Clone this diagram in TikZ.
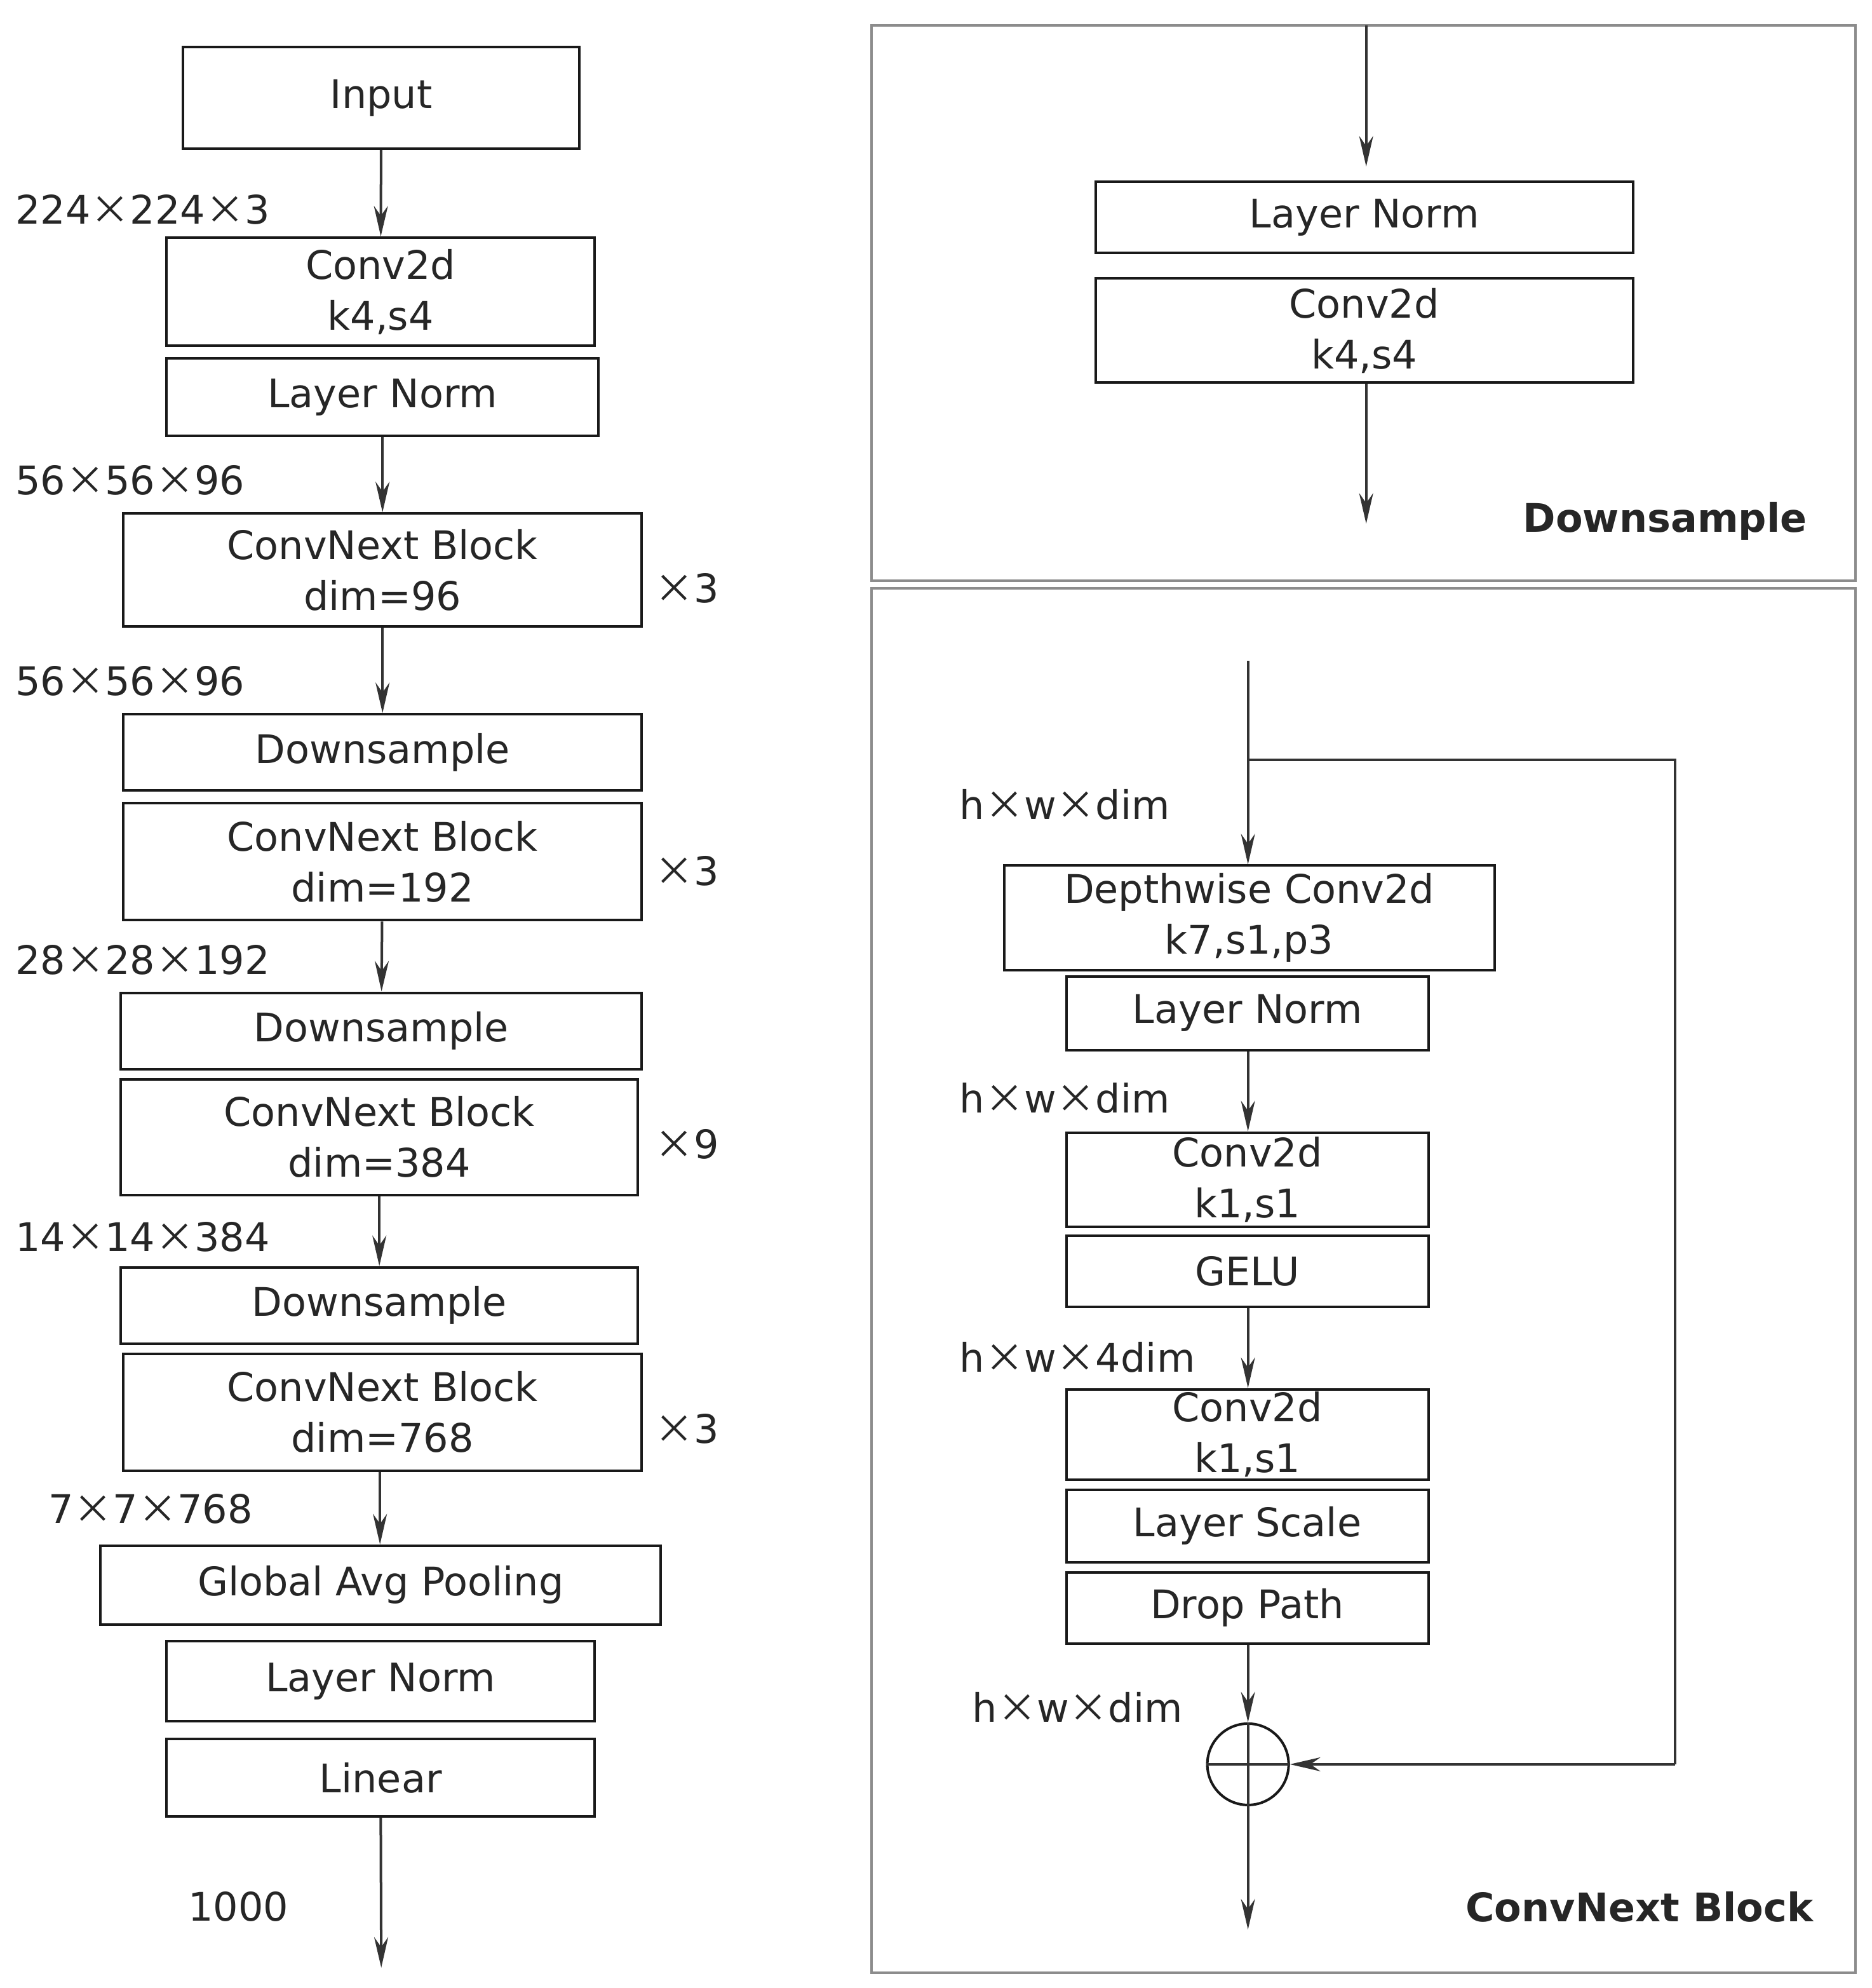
\documentclass[tikz,border=0pt]{standalone}
\usepackage{fontspec}
\setmainfont{DejaVu Sans}
\newfontfamily\cjkf{Noto Sans CJK SC}
\newcommand\mX{{\cjkf ×}}
\usetikzlibrary{arrows.meta}
\begin{document}
\begin{tikzpicture}[x=1pt,y=-1pt,
  every node/.style={font=\fontsize{31}{40}\selectfont, text=black!85},
  box/.style={draw=black!90, line width=2pt, inner sep=0pt, align=center},
  arr/.style={draw=black!80, line width=2pt, -{Stealth[length=24pt,width=11pt]}},
  ln/.style={draw=black!80, line width=2pt},
  lab/.style={anchor=west, inner sep=0pt},
  panel/.style={draw=black!45, line width=2pt}]
\useasboundingbox (0,0) rectangle (1473,1564);
\fill[white] (0,0) rectangle (1473,1564);
% left column
\node[box, minimum width=312pt, minimum height=80pt] (in) at (300,77) {Input};
\node[box, minimum width=337pt, minimum height=85pt] (c1) at (299.5,229.5) {Conv2d\\k4,s4};
\node[box, minimum width=340pt, minimum height=61pt] (l1) at (301,312.5) {Layer Norm};
\node[box, minimum width=408pt, minimum height=89pt] (b1) at (301,448.5) {ConvNext Block\\dim=96};
\node[box, minimum width=408pt, minimum height=60pt] (d1) at (301,592) {Downsample};
\node[box, minimum width=408pt, minimum height=92pt] (b2) at (301,678) {ConvNext Block\\dim=192};
\node[box, minimum width=410pt, minimum height=60pt] (d2) at (300,811) {Downsample};
\node[box, minimum width=407pt, minimum height=91pt] (b3) at (298.5,894.5) {ConvNext Block\\dim=384};
\node[box, minimum width=407pt, minimum height=60pt] (d3) at (298.5,1027) {Downsample};
\node[box, minimum width=408pt, minimum height=92pt] (b4) at (301,1111) {ConvNext Block\\dim=768};
\node[box, minimum width=441pt, minimum height=62pt] (gap) at (299.5,1247) {Global Avg Pooling};
\node[box, minimum width=337pt, minimum height=63pt] (l2) at (299.5,1322.5) {Layer Norm};
\node[box, minimum width=337pt, minimum height=61pt] (lin) at (299.5,1398.5) {Linear};
\coordinate (out) at (300,1548);
\draw[arr] (in) -- (c1);
\draw[arr] (l1) -- (b1);
\draw[arr] (b1) -- (d1);
\draw[arr] (b2) -- (d2);
\draw[arr] (b3) -- (d3);
\draw[arr] (b4.south -| 299,0) -- (gap.north -| 299,0);
\draw[arr] (lin) -- (out);
\node[lab] (t1) at (12,165) {224\mX224\mX3};
\node[lab] (t2) at (12,378) {56\mX56\mX96};
\node[lab] (t3) at (12,536) {56\mX56\mX96};
\node[lab] (t4) at (12,755) {28\mX28\mX192};
\node[lab] (t5) at (12,973) {14\mX14\mX384};
\node[lab] (t6) at (38,1187) {7\mX7\mX768};
\node[lab] (t7) at (148,1500) {1000};
\node[lab] (x1) at (515,463) {\mX3};
\node[lab] (x2) at (515,685) {\mX3};
\node[lab] (x3) at (515,900) {\mX9};
\node[lab] (x4) at (515,1124) {\mX3};
% downsample panel
\draw[panel] (686,20) rectangle (1460,457);
\coordinate (dtop) at (1075,20);
\node[box, minimum width=423pt, minimum height=56pt] (dln) at (1073.5,171) {Layer Norm};
\node[box, minimum width=423pt, minimum height=82pt] (dcv) at (1073.5,260) {Conv2d\\k4,s4};
\coordinate (dbot) at (1075,412);
\draw[arr] (dtop) -- (1075,131);
\draw[arr] (dcv.south -| 1075,0) -- (dbot);
\node[anchor=east, inner sep=0pt, font=\fontsize{31}{40}\selectfont\bfseries] (dt) at (1422,410) {Downsample};
% convnext block panel
\draw[panel] (686,463) rectangle (1460,1552);
\coordinate (ctop) at (982,520);
\coordinate (br) at (982,598);
\node[box, minimum width=386pt, minimum height=82pt] (dw) at (983,722) {Depthwise Conv2d\\k7,s1,p3};
\node[box, minimum width=285pt, minimum height=58pt] (cln) at (981.5,797) {Layer Norm};
\node[box, minimum width=285pt, minimum height=74pt] (cc1) at (981.5,928) {Conv2d\\k1,s1};
\node[box, minimum width=285pt, minimum height=56pt] (ge) at (981.5,1000) {GELU};
\node[box, minimum width=285pt, minimum height=71pt] (cc2) at (981.5,1128.5) {Conv2d\\k1,s1};
\node[box, minimum width=285pt, minimum height=57pt] (ls) at (981.5,1200.5) {Layer Scale};
\node[box, minimum width=285pt, minimum height=56pt] (dp) at (981.5,1265) {Drop Path};
\node[draw=black!90, line width=2pt, circle, minimum size=64pt, inner sep=0pt] (add) at (982,1388) {};
\draw[ln] (add.north) -- (add.south) (add.west) -- (add.east);
\coordinate (cbot) at (982,1518);
\draw[arr] (ctop) -- (dw.north -| 982,0);
\draw[ln] (br) -- (1318,598) -- (1318,1388);
\draw[arr] (1318,1388) -- (add.east);
\draw[arr] (cln.south -| 982,0) -- (cc1.north -| 982,0);
\draw[arr] (ge.south -| 982,0) -- (cc2.north -| 982,0);
\draw[arr] (dp.south -| 982,0) -- (add.north);
\draw[arr] (add.south) -- (cbot);
\node[lab] (h1) at (755,633) {h\mX w\mX dim};
\node[lab] (h2) at (755,864) {h\mX w\mX dim};
\node[lab] (h3) at (755,1068) {h\mX w\mX 4dim};
\node[lab] (h4) at (765,1343) {h\mX w\mX dim};
\node[anchor=east, inner sep=0pt, font=\fontsize{31}{40}\selectfont\bfseries] (ct) at (1427,1500) {ConvNext Block};
\end{tikzpicture}
\end{document}
